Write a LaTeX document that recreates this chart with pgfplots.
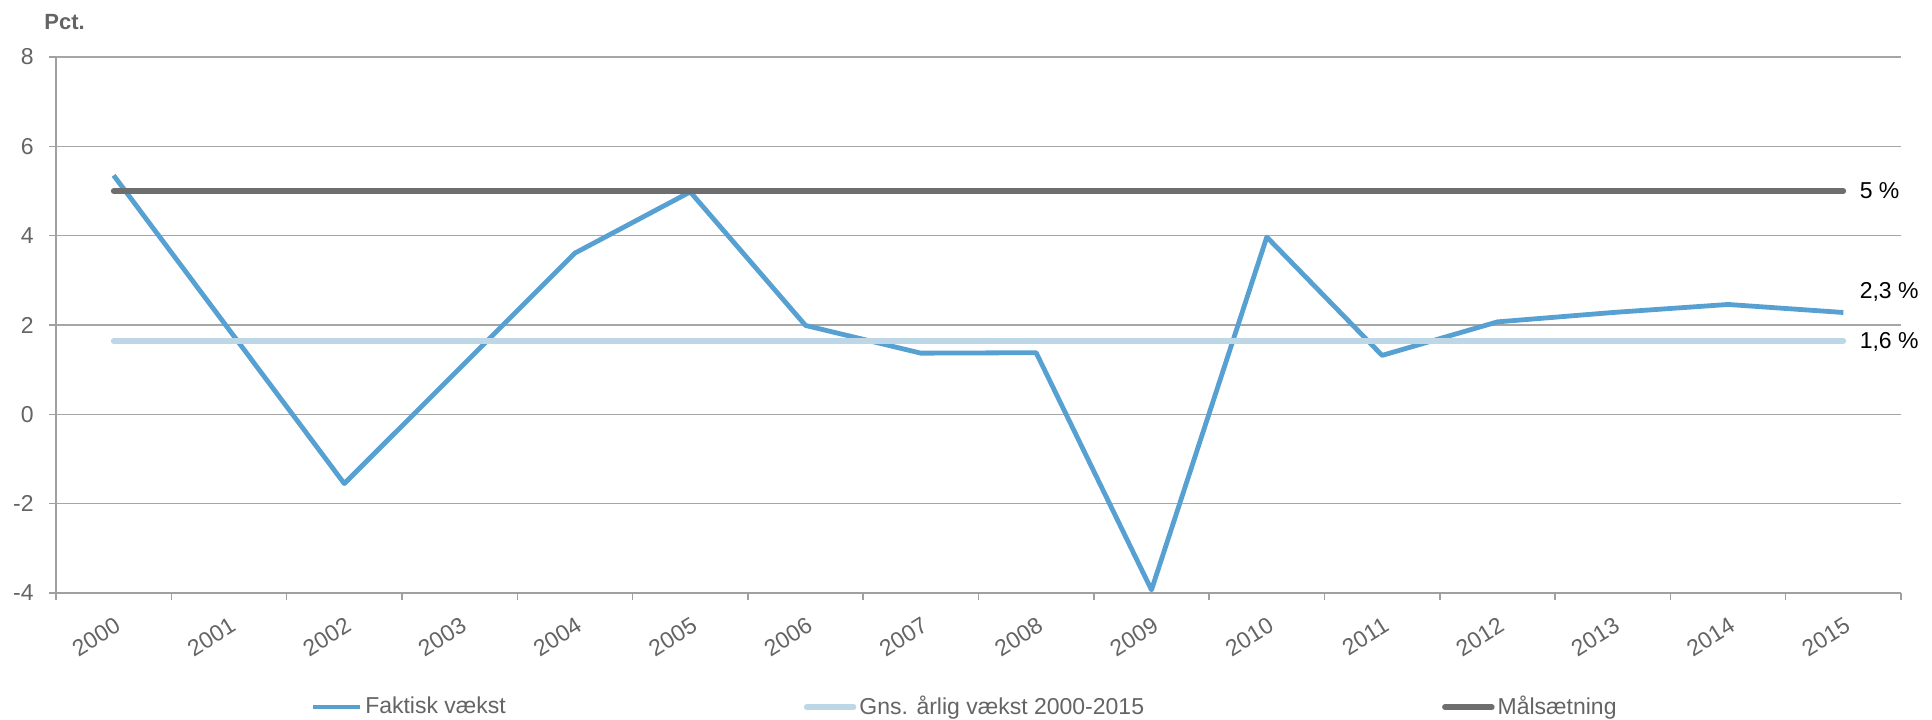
\documentclass[border=0pt]{standalone}
\usepackage{fontspec}
\setmainfont{Liberation Sans}
\usepackage{pgfplots}
\pgfplotsset{compat=1.18}
\definecolor{faktisk}{RGB}{87,160,210}
\definecolor{gns}{RGB}{189,215,231}
\definecolor{maal}{RGB}{110,110,110}
\definecolor{txtgray}{RGB}{100,100,100}
\definecolor{gridgray}{RGB}{166,166,166}
\definecolor{axisgray}{RGB}{160,160,160}
\begin{document}
\begin{tikzpicture}
\useasboundingbox (-28pt,-63pt) rectangle (938pt,296.5pt);
\begin{axis}[
  name=ax, at={(0,0)}, anchor=south west,
  scale only axis, width=922.5pt, height=268pt,
  xmin=-0.5, xmax=15.5, ymin=-4, ymax=8,
  axis lines*=left,
  axis line style={axisgray, line width=1pt},
  ytick={-4,-2,0,2,4,6,8},
  xtick={0,...,15},
  xticklabels={2000,2001,2002,2003,2004,2005,2006,2007,2008,2009,2010,2011,2012,2013,2014,2015},
  minor xtick={-0.5,0.5,...,15.5},
  every major x tick/.style={draw=none},
  tick align=outside,
  major tick length=3.5pt, minor tick length=3.5pt,
  tick style={axisgray, line width=0.75pt},
  ymajorgrids=true,
  grid style={gridgray, line width=0.75pt},
  /pgf/number format/assume math mode=true,
  ticklabel style={font=\fontsize{11.5}{14}\selectfont, text=txtgray},
  yticklabel style={anchor=east, inner sep=0pt, xshift=-7.5pt},
  xticklabel style={inner sep=0pt, yshift=-8pt, rotate=32, anchor=north east},
  clip=false,
  legend style={at={(0.1377,-0.2127)}, anchor=west, draw=none, fill=none,
    inner sep=0pt, font=\fontsize{11.5}{14}\selectfont, text=txtgray,
    nodes={inner sep=0pt},
    /tikz/every even column/.append style={column sep=149pt},
    /tikz/every odd column/.append style={column sep=1.5pt}},
  legend columns=3,
  legend cell align=left,
  legend image code/.code={\draw[#1] (0pt,0pt) -- (23.5pt,0pt);},
]
\addplot[faktisk, line width=2.4pt, line join=round] coordinates {
 (0,5.35) (1,1.9) (2,-1.55) (3,1.03) (4,3.61) (5,4.98) (6,1.99) (7,1.37)
 (8,1.38) (9,-3.93) (10,3.97) (11,1.32) (12,2.07) (13,2.28) (14,2.46) (15,2.28)};
\addlegendentry{Faktisk vækst}
\addplot[gns, line width=2.8pt, line cap=round] coordinates {(0,1.64) (15,1.64)};
\addlegendentry{Gns. årlig vækst 2000-2015}
\addplot[maal, line width=2.8pt, line cap=round] coordinates {(0,5) (15,5)};
\addlegendentry{Målsætning}
\node[anchor=west, inner sep=0pt, font=\fontsize{11.5}{14}\selectfont, xshift=8pt] at (axis cs:15,5) {5 \%};
\node[anchor=west, inner sep=0pt, font=\fontsize{11.5}{14}\selectfont, xshift=8pt] at (axis cs:15,2.75) {2,3 \%};
\node[anchor=west, inner sep=0pt, font=\fontsize{11.5}{14}\selectfont, xshift=8pt] at (axis cs:15,1.63) {1,6 \%};
\node[anchor=west, inner sep=0pt, text=txtgray, font=\bfseries\fontsize{11}{13}\selectfont, xshift=-6pt, yshift=17.5pt] at (rel axis cs:0,1) {Pct.};
\end{axis}
\end{tikzpicture}
\end{document}
